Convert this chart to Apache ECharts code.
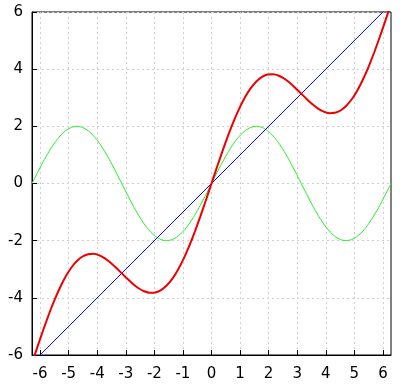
<!DOCTYPE html>
<html><head><meta charset="utf-8">
<script src="https://cdn.jsdelivr.net/npm/echarts@6/dist/echarts.min.js"></script>
<style>html,body{margin:0;padding:0;background:#fff}#c{width:403px;height:390px}</style>
</head><body><div id="c"></div>
<script>
var xs = [-6.283,-6.087,-5.890,-5.694,-5.498,-5.301,-5.105,-4.909,-4.712,-4.516,-4.320,-4.123,-3.927,-3.731,-3.534,-3.338,
  -3.142,-2.945,-2.749,-2.553,-2.356,-2.160,-1.963,-1.767,-1.571,-1.374,-1.178,-0.982,-0.785,-0.589,-0.393,-0.196,
  0,0.196,0.393,0.589,0.785,0.982,1.178,1.374,1.571,1.767,1.963,2.160,2.356,2.553,2.749,2.945,
  3.142,3.338,3.534,3.731,3.927,4.123,4.320,4.516,4.712,4.909,5.105,5.301,5.498,5.694,5.890,6.087,6.283];
var sinVals = [0,0.390,0.765,1.111,1.414,1.663,1.848,1.962,2,1.962,1.848,1.663,1.414,1.111,0.765,0.390,
  0,-0.390,-0.765,-1.111,-1.414,-1.663,-1.848,-1.962,-2,-1.962,-1.848,-1.663,-1.414,-1.111,-0.765,-0.390,
  0,0.390,0.765,1.111,1.414,1.663,1.848,1.962,2,1.962,1.848,1.663,1.414,1.111,0.765,0.390,
  0,-0.390,-0.765,-1.111,-1.414,-1.663,-1.848,-1.962,-2,-1.962,-1.848,-1.663,-1.414,-1.111,-0.765,-0.390,0];
var sumVals = [-6.283,-5.697,-5.125,-4.583,-4.084,-3.638,-3.257,-2.947,-2.712,-2.554,-2.472,-2.460,-2.513,-2.620,-2.769,-2.948,
  -3.142,-3.335,-3.514,-3.664,-3.770,-3.823,-3.811,-3.729,-3.571,-3.336,-3.026,-2.645,-2.199,-1.700,-1.158,-0.586,
  0,0.586,1.158,1.700,2.199,2.645,3.026,3.336,3.571,3.729,3.811,3.823,3.770,3.664,3.514,3.335,
  3.142,2.948,2.769,2.620,2.513,2.460,2.472,2.554,2.712,2.947,3.257,3.638,4.084,4.583,5.125,5.697,6.283];
var lineX = [-6.283, 6.283];
var lineY = [-6.283, 6.283];
var xTicks = [-6,-5,-4,-3,-2,-1,0,1,2,3,4,5,6];

function pairs(a,b){return a.map(function(v,i){return [v,b[i]];});}
var chart = echarts.init(document.getElementById('c'));
var font = {fontFamily:'DejaVu Sans', fontSize:15, color:'#000'};
chart.setOption({
  animation:false,
  grid:{left:32,right:12,top:12,bottom:35,show:true,borderColor:'#000',borderWidth:1,backgroundColor:'transparent'},
  xAxis:{type:'value',min:-6.2832,max:6.2832,
    axisLine:{show:true,onZero:false,lineStyle:{color:'#000'}},
    axisTick:{inside:true,length:5,lineStyle:{color:'#000'},customValues:xTicks},
    axisLabel:Object.assign({customValues:xTicks,margin:12},font),
    splitLine:{show:true,lineStyle:{color:'#d0d0d0',type:[2,3]}}},
  yAxis:{type:'value',min:-6,max:6,interval:2,
    axisLine:{show:true,onZero:false,lineStyle:{color:'#000'}},
    axisTick:{inside:true,length:5,lineStyle:{color:'#000'}},
    axisLabel:Object.assign({margin:9},font),
    splitLine:{show:true,lineStyle:{color:'#d0d0d0',type:[2,3]}}},
  series:[
    {type:'line',data:pairs(xs,sinVals),smooth:0.2,showSymbol:false,lineStyle:{color:'#22ee22',width:1},clip:true},
    {type:'line',data:pairs(lineX,lineY),showSymbol:false,lineStyle:{color:'#0000ff',width:1},clip:true},
    {type:'line',data:pairs(xs,sumVals),smooth:0.2,showSymbol:false,lineStyle:{color:'#ee0000',width:2},clip:true}
  ]
});
</script></body></html>
